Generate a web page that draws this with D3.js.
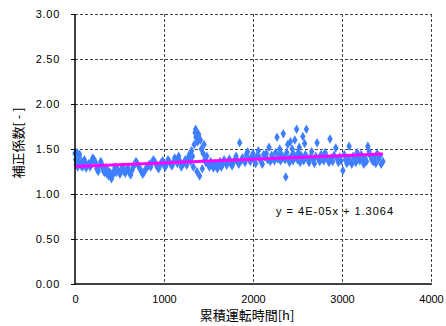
<!DOCTYPE html>
<html><head><meta charset="utf-8">
<script src="https://cdn.jsdelivr.net/npm/d3@7"></script>
<style>body{margin:0;background:#fff}svg{display:block}text{font-family:"Liberation Sans",Arial,sans-serif}</style>
</head><body><svg id="c" width="446" height="326"></svg>
<script>
const xTicks=[0,1000,2000,3000,4000];
const yTicks=[0,0.5,1.0,1.5,2.0,2.5,3.0];
const hours=[
0,8,15,22,30,38,45,52,60,68,
75,85,95,105,115,125,140,155,170,185,
200,215,230,245,260,275,290,300,315,330,
345,360,370,380,395,410,425,440,450,462,
475,490,505,520,535,550,565,580,595,610,
625,640,655,670,685,700,715,730,745,760,
775,790,805,820,835,850,865,880,895,910,
925,940,955,970,985,1000,1015,1030,1045,1060,
1075,1090,1105,1120,1135,1150,1165,1180,1195,1210,
1225,1240,1255,1270,1285,1300,1310,1320,1330,1340,
1350,1355,1360,1365,1370,1380,1390,1400,1410,1420,
1430,1440,1450,1460,1470,1480,1495,1510,1525,1540,
1555,1570,1585,1600,1615,1630,1645,1660,1675,1690,
1705,1720,1735,1750,1765,1780,1795,1810,1825,1840,
1850,1865,1880,1895,1910,1925,1940,1955,1970,1985,
2000,2015,2030,2045,2060,2075,2090,2105,2120,2135,
2150,2165,2180,2195,2210,2225,2240,2255,2270,2280,
2290,2300,2310,2320,2330,2340,2350,2360,2368,2380,
2390,2400,2410,2420,2430,2440,2450,2460,2470,2480,
2490,2500,2510,2520,2530,2540,2550,2560,2570,2580,
2590,2600,2615,2630,2645,2660,2675,2690,2705,2720,
2735,2750,2765,2780,2795,2810,2825,2840,2855,2865,
2880,2895,2910,2930,2945,2960,2975,2990,3010,3025,
3040,3055,3070,3080,3095,3110,3125,3140,3155,3170,
3185,3200,3215,3230,3245,3260,3275,3290,3305,3320,
3335,3350,3365,3380,3395,3410,3425,3440,3460];
const values=[
1.45,1.38,1.32,1.46,1.30,1.35,1.42,1.44,1.33,1.31,
1.36,1.30,1.33,1.38,1.35,1.29,1.32,1.34,1.30,1.36,
1.40,1.38,1.35,1.28,1.25,1.31,1.36,1.33,1.27,1.24,
1.29,1.22,1.26,1.20,1.24,1.17,1.21,1.26,1.30,1.24,
1.28,1.25,1.22,1.27,1.30,1.25,1.23,1.27,1.29,1.24,
1.21,1.26,1.30,1.33,1.36,1.34,1.31,1.28,1.25,1.22,
1.24,1.27,1.29,1.31,1.33,1.30,1.35,1.38,1.36,1.33,
1.30,1.28,1.32,1.35,1.37,1.32,1.30,1.34,1.38,1.36,
1.33,1.31,1.35,1.40,1.38,1.34,1.42,1.36,1.30,1.33,
1.35,1.38,1.32,1.40,1.44,1.36,1.48,1.42,1.30,1.55,
1.68,1.72,1.63,1.70,1.25,1.58,1.66,1.20,1.60,1.50,
1.28,1.45,1.55,1.38,1.35,1.42,1.33,1.30,1.36,1.32,
1.29,1.34,1.31,1.28,1.33,1.36,1.30,1.34,1.38,1.35,
1.32,1.36,1.39,1.34,1.31,1.35,1.38,1.42,1.36,1.33,
1.57,1.37,1.40,1.38,1.35,1.44,1.47,1.39,1.36,1.41,
1.45,1.38,1.34,1.42,1.48,1.40,1.36,1.33,1.44,1.41,
1.45,1.38,1.52,1.36,1.43,1.40,1.37,1.46,1.63,1.39,
1.42,1.50,1.37,1.44,1.40,1.67,1.41,1.38,1.19,1.46,
1.55,1.39,1.35,1.58,1.42,1.50,1.37,1.44,1.60,1.41,
1.72,1.38,1.46,1.52,1.35,1.43,1.40,1.64,1.37,1.56,
1.44,1.72,1.39,1.35,1.41,1.47,1.38,1.34,1.42,1.57,
1.39,1.36,1.44,1.40,1.37,1.46,1.42,1.38,1.35,1.61,
1.40,1.36,1.43,1.51,1.39,1.35,1.41,1.37,1.26,1.44,
1.38,1.34,1.40,1.53,1.36,1.33,1.42,1.39,1.35,1.46,
1.41,1.37,1.44,1.38,1.33,1.40,1.36,1.53,1.47,1.42,
1.38,1.36,1.40,1.34,1.45,1.39,1.42,1.33,1.36];
const slope=4e-5, intercept=1.3064, fitEnd=3460;
const eqText="y = 4E-05x + 1.3064";

const svg=d3.select("#c");
const L=75,R=431,T=14,B=284;
const x=d3.scaleLinear().domain([0,4000]).range([L,R]);
const y=d3.scaleLinear().domain([0,3]).range([B,T]);
const g=svg.append("g");
g.selectAll(".hg").data(yTicks.filter(d=>d>0)).enter().append("line")
 .attr("x1",L).attr("x2",R).attr("y1",d=>y(d)+0.5).attr("y2",d=>y(d)+0.5)
 .attr("stroke","#444").attr("stroke-width",1).attr("stroke-dasharray","3,2");
g.selectAll(".vg").data(xTicks.filter(d=>d>0)).enter().append("line")
 .attr("y1",T).attr("y2",B).attr("x1",d=>x(d)+0.5).attr("x2",d=>x(d)+0.5)
 .attr("stroke","#444").attr("stroke-width",1).attr("stroke-dasharray","3,2");
const ya=d3.axisLeft(y).tickValues(yTicks).tickFormat(d3.format(".2f")).tickSize(4).tickPadding(11);
const yg=svg.append("g").attr("transform",`translate(${L},0)`).call(ya);
yg.select(".domain").remove();
yg.selectAll("line").attr("stroke","#000");
yg.selectAll("text").attr("font-size",11).attr("fill","#000").style("letter-spacing","0.7px");
const xa=d3.axisBottom(x).tickValues(xTicks).tickFormat(d3.format("d")).tickSize(0).tickPadding(11);
const xg=svg.append("g").attr("transform",`translate(0,${B})`).call(xa);
xg.select(".domain").remove();
xg.selectAll("text").attr("font-size",11).attr("fill","#000");
const diamond=d3.symbol().type(d3.symbolDiamond).size(26);
svg.append("g").selectAll("path").data(hours.map((h,i)=>[h,values[i]])).enter().append("path")
 .attr("d",diamond).attr("transform",d=>`translate(${x(d[0])},${y(d[1])})`).attr("fill","#3f7fff");
svg.append("line").attr("x1",x(0)).attr("y1",y(intercept)).attr("x2",x(fitEnd)).attr("y2",y(intercept+slope*fitEnd))
 .attr("stroke","#ff00ff").attr("stroke-width",3);
svg.append("line").attr("x1",L).attr("x2",L).attr("y1",T).attr("y2",B+1).attr("stroke","#000").attr("stroke-width",1.5);
svg.append("line").attr("x1",L).attr("x2",R+1).attr("y1",B).attr("y2",B).attr("stroke","#000").attr("stroke-width",1.5);
svg.append("text").attr("x",276).attr("y",215).attr("font-size",11).style("letter-spacing","1px").text(eqText);
svg.append("text").attr("x",247).attr("y",320).attr("text-anchor","middle").attr("font-size",13)
 .style("font-family","'Noto Sans CJK JP',sans-serif").text("累積運転時間[h]");
svg.append("text").attr("transform","translate(23,143) rotate(-90)").attr("text-anchor","middle").attr("font-size",13)
 .style("font-family","'Noto Sans CJK JP',sans-serif").text("補正係数[ - ]");
</script></body></html>
